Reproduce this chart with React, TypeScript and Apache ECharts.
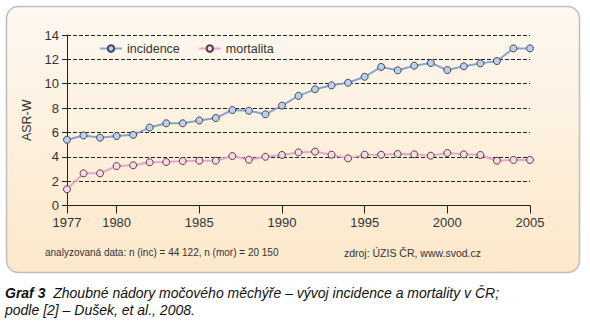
import React, { useEffect, useRef } from "react";
import * as echarts from "echarts";

const years = [1977, 1978, 1979, 1980, 1981, 1982, 1983, 1984, 1985, 1986, 1987, 1988, 1989, 1990, 1991, 1992, 1993, 1994, 1995, 1996, 1997, 1998, 1999, 2000, 2001, 2002, 2003, 2004, 2005];
const incidence = [5.4, 5.75, 5.57, 5.7, 5.8, 6.4, 6.75, 6.75, 6.98, 7.18, 7.84, 7.78, 7.49, 8.2, 9.0, 9.54, 9.87, 10.08, 10.57, 11.38, 11.1, 11.48, 11.7, 11.12, 11.43, 11.67, 11.86, 12.9, 12.9];
const mortalita = [1.33, 2.64, 2.64, 3.24, 3.3, 3.55, 3.57, 3.65, 3.68, 3.68, 4.06, 3.76, 4.0, 4.15, 4.36, 4.42, 4.17, 3.87, 4.17, 4.17, 4.23, 4.2, 4.09, 4.31, 4.2, 4.15, 3.68, 3.74, 3.74];
const xTickLabels = [1977, 1980, 1985, 1990, 1995, 2000, 2005];
const seriesNames = ["incidence", "mortalita"];

const FONT = "'Liberation Sans', Arial, sans-serif";

export default function App() {
  const ref = useRef<HTMLDivElement>(null);
  useEffect(() => {
    if (!ref.current) return;
    const chart = echarts.init(ref.current, undefined, { renderer: "svg" });
    const incData = years.map((y, i) => [y, incidence[i]]);
    const morData = years.map((y, i) => [y, mortalita[i]]);
    chart.setOption({
      animation: false,
      textStyle: { fontFamily: FONT },
      graphic: [
        {
          type: "rect",
          z: -10,
          shape: { x: 6.5, y: 6.5, width: 573, height: 266, r: 12 },
          style: {
            fill: new echarts.graphic.LinearGradient(0, 0, 0, 1, [
              { offset: 0, color: "#fdf8f1" },
              { offset: 1, color: "#fde8ca" },
            ]),
            stroke: "#bdbdbd",
            lineWidth: 1.5,
          },
        },
        {
          type: "text",
          x: 45,
          y: 247,
          style: { text: "analyzovaná data: n (inc) = 44 122, n (mor) = 20 150", fill: "#333", font: `10px ${FONT}` },
        },
        {
          type: "text",
          x: 481,
          y: 247,
          style: { text: "zdroj: ÚZIS ČR, www.svod.cz", fill: "#333", font: `10.5px ${FONT}`, align: "right" },
        },
        {
          type: "text",
          x: 5,
          y: 286,
          style: {
            rich: {
              b: { fontWeight: "bold", fontStyle: "italic", fontSize: 14, fontFamily: FONT, fill: "#111" },
              n: { fontStyle: "italic", fontSize: 14, fontFamily: FONT, fill: "#111" },
            },
            text: "{b|Graf 3}{n|  Zhoubné nádory močového měchýře – vývoj incidence a mortality v ČR;}",
          },
        },
        {
          type: "text",
          x: 5,
          y: 303,
          style: { text: "podle [2] – Dušek, et al., 2008.", fill: "#111", font: `italic 14px ${FONT}` },
        },
      ],
      legend: {
        data: seriesNames,
        left: 94,
        top: 37,
        itemWidth: 22,
        itemHeight: 8,
        itemGap: 18,
        textStyle: { color: "#333", fontSize: 12.5, fontFamily: FONT },
      },
      grid: { left: 67, right: 60, top: 35, bottom: 119.5 },
      xAxis: {
        type: "value",
        min: 1977,
        max: 2005,
        axisLine: { show: true, lineStyle: { color: "#222", width: 1 } },
        axisTick: { show: true, customValues: xTickLabels, length: 8, lineStyle: { color: "#222" } },
        axisLabel: {
          customValues: xTickLabels,
          formatter: (v: number) => String(v),
          color: "#333",
          fontSize: 13,
          margin: 10,
          fontFamily: FONT,
        },
        splitLine: { show: false },
      },
      yAxis: {
        type: "value",
        min: 0,
        max: 14,
        interval: 2,
        name: "ASR-W",
        nameLocation: "middle",
        nameGap: 28,
        nameTextStyle: { color: "#333", fontSize: 12.5, fontFamily: FONT },
        axisLine: { show: true, lineStyle: { color: "#222", width: 1 } },
        axisTick: { show: true, length: 5, lineStyle: { color: "#222" } },
        axisLabel: { color: "#333", fontSize: 13, margin: 8, fontFamily: FONT },
        splitLine: { show: true, lineStyle: { color: "#222", type: [4, 2], width: 1 } },
      },
      series: [
        {
          name: "incidence",
          type: "line",
          data: incData,
          symbol: "circle",
          symbolSize: 7,
          lineStyle: { color: "#88a4cc", width: 2 },
          itemStyle: { color: "#bcd0ec", borderColor: "#3e4858", borderWidth: 1 },
        },
        {
          name: "mortalita",
          type: "line",
          data: morData,
          symbol: "circle",
          symbolSize: 7,
          lineStyle: { color: "#eaa6c6", width: 2 },
          itemStyle: { color: "#f3dce6", borderColor: "#5a3a4c", borderWidth: 1 },
        },
      ],
    });
    return () => chart.dispose();
  }, []);
  return <div ref={ref} style={{ position: "fixed", left: 0, top: 0, width: 590, height: 325, background: "#fff" }} />;
}
